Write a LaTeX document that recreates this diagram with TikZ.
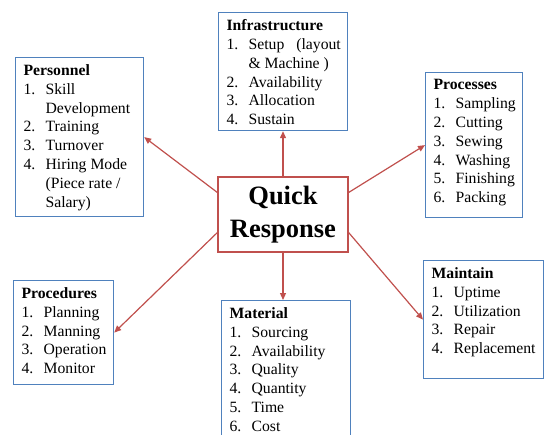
\documentclass[tikz,border=0pt]{standalone}
\usepackage{fontspec}
\setmainfont{LiberationSerif}[Extension=.ttf,UprightFont=*-Regular,BoldFont=*-Bold,
  ItalicFont=*-Italic,BoldItalicFont=*-BoldItalic]
\usetikzlibrary{arrows.meta}
\definecolor{qrblue}{RGB}{79,129,189}
\definecolor{qrred}{RGB}{192,80,77}
\newcommand{\listbox}[3]{\parbox[c][#2][t]{#1}{\leftskip=8pt\rightskip=0pt plus 1fil\hyphenpenalty=10000\vspace*{7pt}#3}}
\newcommand{\itm}[2]{\makebox[22pt][l]{#1}#2}
\newcommand{\cont}[1]{\hspace*{22pt}#1}

\begin{document}
\begin{tikzpicture}[x=1pt,y=-1pt,line width=1.2pt,
  listnode/.style={draw=qrblue,fill=white,inner sep=0pt,anchor=north west,
    font=\rmfamily\fontsize{15.7}{18.8}\selectfont},
  link/.style={qrred,-{Triangle[length=7pt,width=6pt]}}]
  \useasboundingbox (0,0) rectangle (548,434);
  \clip (0,0) rectangle (548,434);
  \node[draw=qrred,minimum width=130pt,minimum height=75pt,inner sep=0pt,align=center,
    font=\rmfamily\fontsize{26.5}{33}\selectfont\bfseries] (qr) at (283,214.5) {Quick\\Response};
  \node[listnode] (infra) at (218,12) {\listbox{129pt}{118pt}{\textbf{Infrastructure}\\
    \itm{1.}{Setup\hspace*{12pt}(layout}\\ \cont{\& Machine )}\\ \itm{2.}{Availability}\\
    \itm{3.}{Allocation}\\ \itm{4.}{Sustain}}};
  \node[listnode] (person) at (15,57) {\listbox{128pt}{159pt}{\textbf{Personnel}\\
    \itm{1.}{Skill}\\ \cont{Development}\\ \itm{2.}{Training}\\ \itm{3.}{Turnover}\\
    \itm{4.}{Hiring Mode}\\ \cont{(Piece rate /}\\ \cont{Salary)}}};
  \node[listnode] (proc) at (425,72) {\listbox{97pt}{145pt}{\textbf{Processes}\\
    \itm{1.}{Sampling}\\ \itm{2.}{Cutting}\\ \itm{3.}{Sewing}\\ \itm{4.}{Washing}\\
    \itm{5.}{Finishing}\\ \itm{6.}{Packing}}};
  \node[listnode] (proced) at (13,280) {\listbox{100pt}{104pt}{\textbf{Procedures}\\
    \itm{1.}{Planning}\\ \itm{2.}{Manning}\\ \itm{3.}{Operation}\\ \itm{4.}{Monitor}}};
  \node[listnode] (maint) at (423,260) {\listbox{120pt}{118pt}{\textbf{Maintain}\\
    \itm{1.}{Uptime}\\ \itm{2.}{Utilization}\\ \itm{3.}{Repair}\\ \itm{4.}{Replacement}}};
  \node[listnode] (mater) at (221,300) {\listbox{129pt}{150pt}{\textbf{Material}\\
    \itm{1.}{Sourcing}\\ \itm{2.}{Availability}\\ \itm{3.}{Quality}\\ \itm{4.}{Quantity}\\
    \itm{5.}{Time}\\ \itm{6.}{Cost}}};
  \draw[link] (qr.north) -- (qr.north |- infra.south);
  \draw[link] (qr.south) -- (qr.south |- mater.north);
  \draw[link] ([yshift=22pt]qr.west) -- (person.east);
  \draw[link] ([yshift=22pt]qr.east) -- (proc.west);
  \draw[link] ([yshift=-18pt]qr.west) -- (proced.east);
  \draw[link] ([yshift=-18pt]qr.east) -- (maint.west);
\end{tikzpicture}
\end{document}
